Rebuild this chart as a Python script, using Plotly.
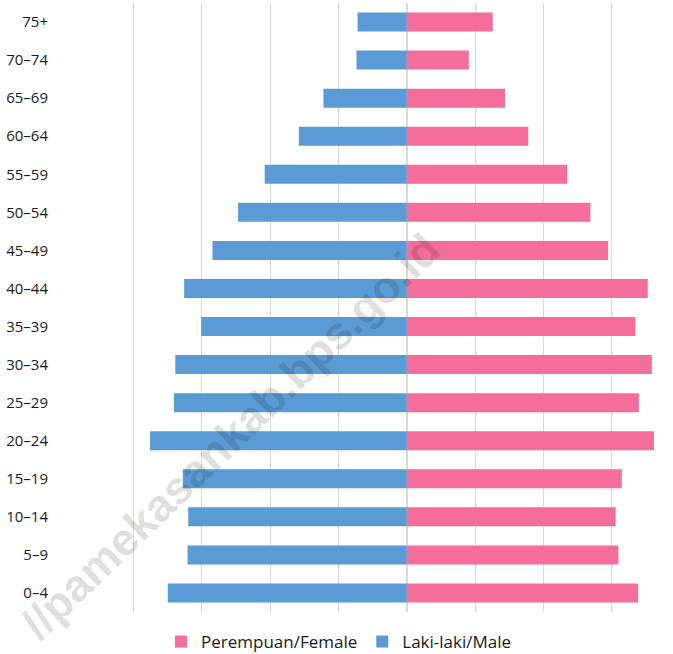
import plotly.graph_objects as go

age_groups = ["0–4", "5–9", "10–14", "15–19", "20–24", "25–29", "30–34", "35–39",
              "40–44", "45–49", "50–54", "55–59", "60–64", "65–69", "70–74", "75+"]
male = [3.50, 3.21, 3.20, 3.28, 3.76, 3.41, 3.39, 3.01,
        3.26, 2.845, 2.47, 2.08, 1.58, 1.22, 0.735, 0.72]
female = [3.39, 3.10, 3.06, 3.15, 3.62, 3.40, 3.59, 3.35,
          3.53, 2.95, 2.69, 2.35, 1.78, 1.44, 0.91, 1.26]

FONT = "Open Sans"

fig = go.Figure()
fig.add_trace(go.Bar(
    y=age_groups, x=female, orientation="h", name="Perempuan/Female",
    marker=dict(color="#F46D9B", line=dict(width=0)), width=0.5,
))
fig.add_trace(go.Bar(
    y=age_groups, x=[-v for v in male], orientation="h", name="Laki-laki/Male",
    marker=dict(color="#5B9BD5", line=dict(width=0)), width=0.5,
))

fig.add_annotation(
    text="<b>//pamekasankab.bps.go.id</b>", xref="paper", yref="paper",
    x=(230 - 65) / 608, y=(612 - 436) / 609, showarrow=False,
    textangle=-44, font=dict(family="Liberation Sans", size=45, color="rgba(0,0,0,0.14)"),
    xanchor="center", yanchor="middle",
)

fig.update_layout(
    width=673, height=654,
    margin=dict(l=65, r=0, t=3, b=42),
    barmode="overlay",
    plot_bgcolor="white", paper_bgcolor="white",
    font=dict(family=FONT, size=15, color="#1a1a1a"),
    xaxis=dict(range=[-5.005, 3.9], dtick=1, tick0=0, showticklabels=False,
               showgrid=True, gridcolor="#d9d9d9", gridwidth=1,
               zeroline=True, zerolinecolor="#d9d9d9", zerolinewidth=1.5,
               showline=False, fixedrange=True, automargin=False),
    yaxis=dict(categoryorder="array", categoryarray=age_groups,
               showgrid=False, zeroline=False, showline=False,
               ticks="", ticklabelstandoff=16, automargin=False,
               tickfont=dict(family=FONT, size=15, color="#1a1a1a")),
    legend=dict(orientation="h", xref="container", x=339 / 673, xanchor="center",
                yref="container", y=1 - 642 / 654, yanchor="middle",
                font=dict(family=FONT, size=17, color="#1a1a1a"),
                traceorder="normal"),
    showlegend=True,
)

fig.write_html("out.html", config={"displayModeBar": False},
               post_script="document.body.style.margin='0';document.body.style.overflow='hidden';")
